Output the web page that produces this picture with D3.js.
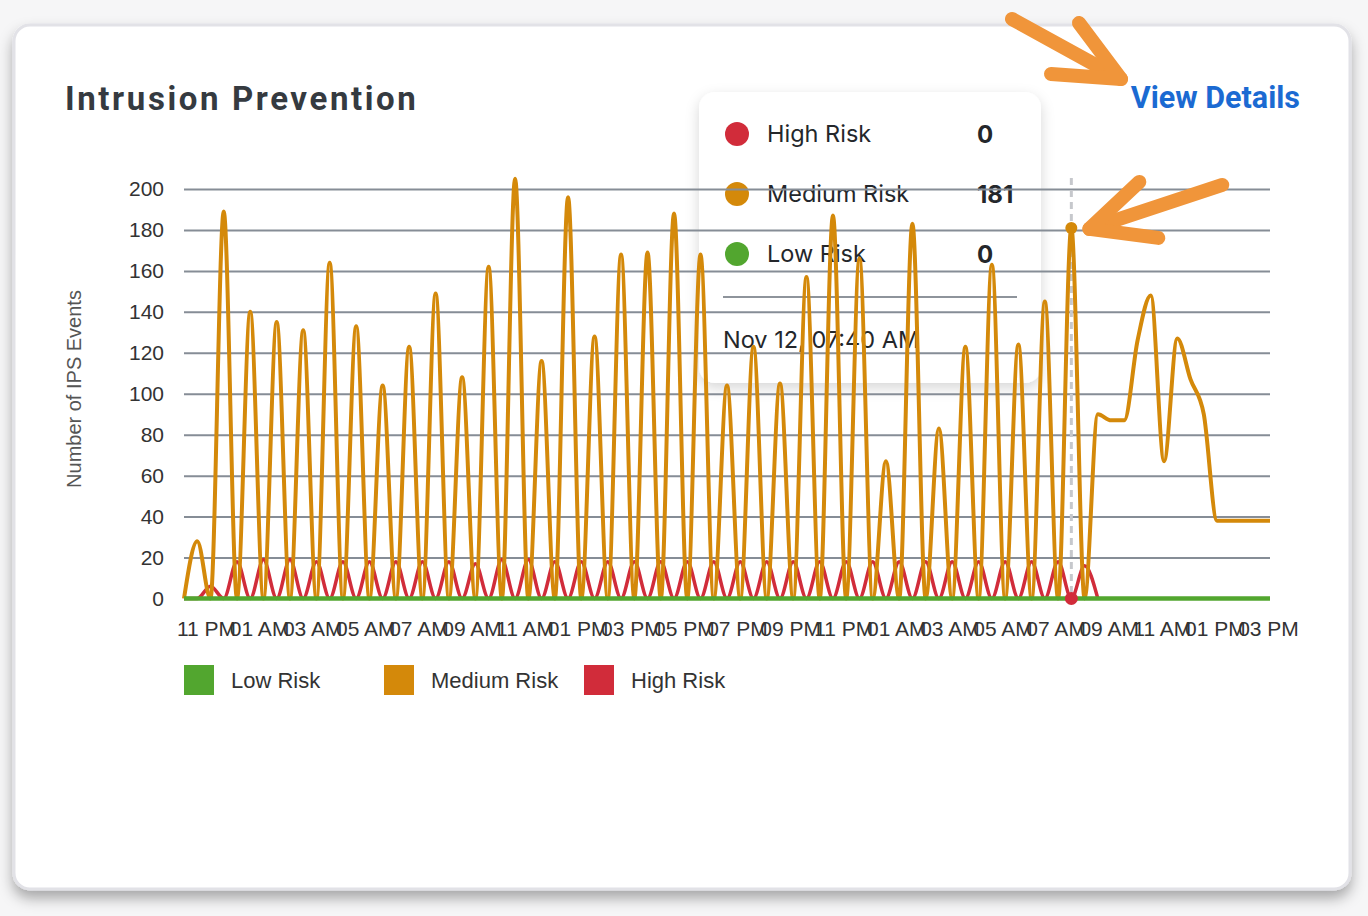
<!DOCTYPE html>
<html><head><meta charset="utf-8">
<script src="https://cdn.jsdelivr.net/npm/d3@7"></script>
<style>
html,body{margin:0;padding:0;background:#f6f6f7;}
svg{display:block;}
</style></head><body>
<svg id="chart" width="1368" height="916"></svg>
<script>
// ---------- data ----------
const seriesNames = ["Low Risk", "Medium Risk", "High Risk"];
const seriesColors = ["#52a62f", "#d4890a", "#d12c3a"];
const xTickLabels = ["11 PM","01 AM","03 AM","05 AM","07 AM","09 AM","11 AM","01 PM","03 PM","05 PM","07 PM",
                     "09 PM","11 PM","01 AM","03 AM","05 AM","07 AM","09 AM","11 AM","01 PM","03 PM"];
const yTicks = [0, 20, 40, 60, 80, 100, 120, 140, 160, 180, 200];

const mediumRisk = [0,28,0,189,0,140,0,135,0,131,0,164,0,133,0,104,0,123,0,149,
                    0,108,0,162,0,205,0,116,0,196,0,128,0,168,0,169,0,188,0,168,
                    0,104,0,123,0,105,0,157,0,187,0,166,0,67,0,183,0,83,0,123,
                    0,163,0,124,0,145,0,181,0,90,87,87,126,148,67,127,107,90,38,38,
                    38,38,38];
const highRisk   = [0,0,6,0,18,0,19,0,19,0,18,0,18,0,18,0,18,0,18,0,
                    18,0,17,0,19,0,19,0,18,0,18,0,18,0,18,0,18,0,18,0,
                    18,0,18,0,18,0,18,0,18,0,18,0,18,0,18,0,18,0,18,0,
                    18,0,18,0,18,0,18,0,16,0];
const lowRisk    = mediumRisk.map(() => 0);

const hoverIndex = 67;
const hoverLabel = "Nov 12, 07:40 AM";

// ---------- layout ----------
const svg = d3.select("#chart");
const plot = {left: 184, right: 1270, top: 189, bottom: 598.5};

const defs = svg.append("defs");
const cardShadow = defs.append("filter").attr("id", "cardShadow")
  .attr("x", "-5%").attr("y", "-5%").attr("width", "110%").attr("height", "115%");
cardShadow.append("feDropShadow").attr("dx", 0).attr("dy", 8).attr("stdDeviation", 7)
  .attr("flood-color", "#000").attr("flood-opacity", 0.32);
const tipShadow = defs.append("filter").attr("id", "tipShadow")
  .attr("x", "-20%").attr("y", "-20%").attr("width", "140%").attr("height", "150%");
tipShadow.append("feDropShadow").attr("dx", 0).attr("dy", 5).attr("stdDeviation", 7)
  .attr("flood-color", "#000").attr("flood-opacity", 0.16);

// card
svg.append("rect").attr("x", 14).attr("y", 25).attr("width", 1336).attr("height", 864)
  .attr("rx", 16).attr("fill", "#fff").attr("stroke", "#e2e2e7").attr("stroke-width", 3)
  .attr("filter", "url(#cardShadow)");

// title
svg.append("text").attr("x", 65).attr("y", 110)
  .attr("font-family", "Roboto, sans-serif").attr("font-weight", 700).attr("font-size", 33)
  .attr("letter-spacing", 2.6).attr("fill", "#353a40").text("Intrusion Prevention");

svg.append("text").attr("x", 1300).attr("y", 108).attr("text-anchor", "end")
  .attr("font-family", "Roboto, sans-serif").attr("font-weight", 700).attr("font-size", 30.5)
  .attr("fill", "#1b6ad2").text("View Details");

// scales
const x = d3.scaleLinear().domain([0, mediumRisk.length - 1]).range([plot.left, plot.right]);
const y = d3.scaleLinear().domain([0, 200]).range([plot.bottom, plot.top]);
const xLab = d3.scalePoint().domain(d3.range(xTickLabels.length)).range([206, 1268]);

// tooltip (drawn under the chart layer)
const tip = svg.append("g").attr("transform", "translate(699,92)");
tip.append("rect").attr("width", 342).attr("height", 291).attr("rx", 16)
  .attr("fill", "#fff").attr("filter", "url(#tipShadow)");
const tipRows = [
  {name: seriesNames[2], color: seriesColors[2], value: highRisk[hoverIndex]},
  {name: seriesNames[1], color: seriesColors[1], value: mediumRisk[hoverIndex]},
  {name: seriesNames[0], color: seriesColors[0], value: lowRisk[hoverIndex]}
];
tipRows.forEach((r, i) => {
  const cy = 42 + i * 60;
  tip.append("circle").attr("cx", 38).attr("cy", cy).attr("r", 12).attr("fill", r.color);
  tip.append("text").attr("x", 68).attr("y", cy).attr("dy", "0.36em")
    .attr("font-family", "Inter, sans-serif").attr("font-size", 23.5).attr("fill", "#24272b").text(r.name);
  tip.append("text").attr("x", 278).attr("y", cy).attr("dy", "0.36em")
    .attr("font-family", "Inter, sans-serif").attr("font-weight", 700).attr("font-size", 24)
    .attr("fill", "#24272b").text(r.value);
});
tip.append("line").attr("x1", 24).attr("x2", 318).attr("y1", 205).attr("y2", 205)
  .attr("stroke", "#8e949b").attr("stroke-width", 2);
tip.append("text").attr("x", 24).attr("y", 248).attr("dy", "0.36em")
  .attr("font-family", "Inter, sans-serif").attr("font-size", 23.5).attr("fill", "#24272b").text(hoverLabel);

// grid + y labels
const yAxis = svg.append("g").attr("transform", `translate(${plot.left},0)`)
  .call(d3.axisLeft(y).tickValues(yTicks).tickSize(-(plot.right - plot.left)).tickPadding(20));
yAxis.select(".domain").remove();
yAxis.selectAll(".tick line").attr("stroke", "#868d96").attr("stroke-width", 2);
yAxis.selectAll(".tick text").attr("font-family", "'Liberation Sans', Arial, sans-serif")
  .attr("font-size", 21).attr("fill", "#333");

// x labels
const xAxis = svg.append("g").attr("transform", `translate(0,${plot.bottom})`)
  .call(d3.axisBottom(xLab).tickSize(0).tickPadding(23).tickFormat(i => xTickLabels[i]));
xAxis.select(".domain").remove();
xAxis.selectAll(".tick text").attr("font-family", "'Liberation Sans', Arial, sans-serif")
  .attr("font-size", 21).attr("fill", "#333");

// y title
svg.append("text").attr("transform", "translate(81,389) rotate(-90)").attr("text-anchor", "middle")
  .attr("font-family", "'Liberation Sans', Arial, sans-serif").attr("font-size", 20)
  .attr("fill", "#555").text("Number of IPS Events");

// hover guide
svg.append("line").attr("x1", x(hoverIndex)).attr("x2", x(hoverIndex))
  .attr("y1", plot.top - 11).attr("y2", plot.bottom)
  .attr("stroke", "#c6c8cc").attr("stroke-width", 3).attr("stroke-dasharray", "7,5");

// lines
const line = d3.line().x((d, i) => x(i)).y(d => y(d)).curve(d3.curveMonotoneX);
const seriesData = [lowRisk, mediumRisk, highRisk];
const widths = [4.5, 4, 3.5];
[2, 1, 0].forEach(k => {
  svg.append("path").datum(seriesData[k]).attr("d", line)
    .attr("fill", "none").attr("stroke", seriesColors[k]).attr("stroke-width", widths[k])
    .attr("stroke-linejoin", "round");
});

// hover dots
svg.append("circle").attr("cx", x(hoverIndex)).attr("cy", y(mediumRisk[hoverIndex])).attr("r", 6)
  .attr("fill", seriesColors[1]);
svg.append("circle").attr("cx", x(hoverIndex)).attr("cy", y(highRisk[hoverIndex])).attr("r", 6.5)
  .attr("fill", seriesColors[2]);

// legend
[0, 1, 2].forEach((k, i) => {
  const lx = 184 + i * 200;
  svg.append("rect").attr("x", lx).attr("y", 665).attr("width", 30).attr("height", 30).attr("fill", seriesColors[k]);
  svg.append("text").attr("x", lx + 47).attr("y", 680).attr("dy", "0.35em")
    .attr("font-family", "'Liberation Sans', Arial, sans-serif").attr("font-size", 22)
    .attr("fill", "#333").text(seriesNames[k]);
});

// annotation arrows
const arrowColor = "#f0953a";
function arrow(g, pts) {
  g.append("path").attr("d", d3.line()(pts)).attr("fill", "none").attr("stroke", arrowColor)
    .attr("stroke-width", 14).attr("stroke-linecap", "round").attr("stroke-linejoin", "round");
}
const a1 = svg.append("g");
const t1 = [1121, 79];
arrow(a1, [[1012, 19], t1]);
arrow(a1, [[1079, 23], t1, [1051, 74]]);
const a2 = svg.append("g");
const t2 = [x(hoverIndex) + 18, y(mediumRisk[hoverIndex]) + 1];
arrow(a2, [[t2[0] + 133, t2[1] - 44], t2]);
arrow(a2, [[t2[0] + 50, t2[1] - 47], t2, [t2[0] + 69, t2[1] + 9]]);
</script>
</body></html>
